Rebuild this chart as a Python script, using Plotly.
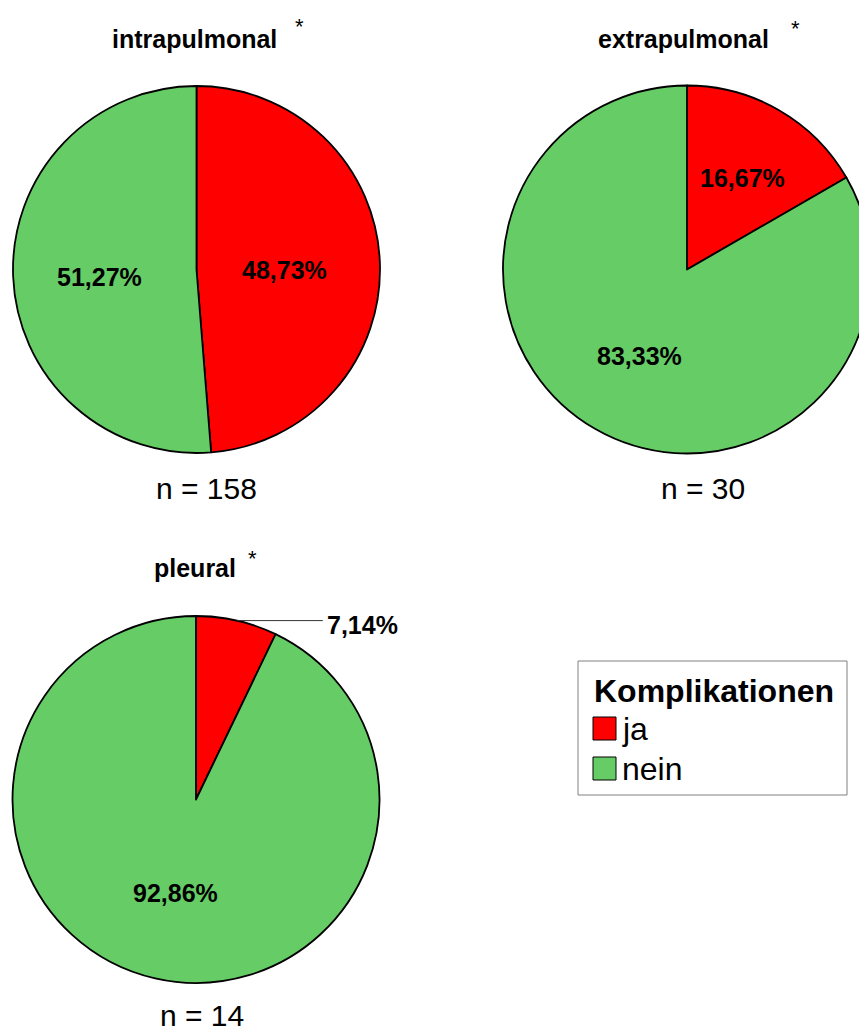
import math
import plotly.graph_objects as go

# ---- data -------------------------------------------------------------
categories = ["ja", "nein"]
groups = ["intrapulmonal", "extrapulmonal", "pleural"]
pct_intrapulmonal = [48.73, 51.27]
pct_extrapulmonal = [16.67, 83.33]
pct_pleural = [7.14, 92.86]
n_cases = [158, 30, 14]
legend_title = "Komplikationen"

# ---- styling / layout -------------------------------------------------
colors = ["#FF0000", "#66CC66"]
FONT = "Liberation Sans, Arial, Helvetica, sans-serif"
W, H = 880, 1032

# pixel geometry of each pie and its texts
pie_layout = [
    dict(cx=196.5, cy=269.5, r=183.5, frac=[0.48, 0.53], outside=[False, False],
         title_xy=(194, 39), star_xy=(299, 26), n_xy=(206, 489)),
    dict(cx=687.0, cy=269.5, r=184.0, frac=[0.6, 0.52], outside=[False, False],
         title_xy=(683, 39), star_xy=(795, 28), n_xy=(703, 489)),
    dict(cx=196.0, cy=799.5, r=183.5, frac=[0.5, 0.5], outside=[True, False],
         title_xy=(195, 568), star_xy=(253, 558), n_xy=(202, 1015)),
]
series = [pct_intrapulmonal, pct_extrapulmonal, pct_pleural]


def px(x):
    return x / W


def py(y):
    return 1 - y / H


def fmt(v):
    return f"{v:.2f}".replace(".", ",") + "%"


fig = go.Figure()
annotations = []
shapes = []

for name, vals, n, g in zip(groups, series, n_cases, pie_layout):
    cx, cy, r = g["cx"], g["cy"], g["r"]
    fig.add_trace(go.Pie(
        labels=categories,
        values=vals,
        sort=False,
        direction="clockwise",
        rotation=0,
        textinfo="none",
        hoverinfo="label+percent",
        marker=dict(colors=colors, line=dict(color="black", width=1.8)),
        domain=dict(x=[px(cx - r), px(cx + r)], y=[py(cy + r), py(cy - r)]),
        showlegend=False,
    ))

    # percentage labels placed along each slice's mid angle
    total = sum(vals)
    start = 0.0
    for i, v in enumerate(vals):
        span = 360.0 * v / total
        mid = math.radians(start + span / 2)
        start += span
        if g["outside"][i]:
            ex = cx + r * math.sin(mid)
            ey = cy - r * math.cos(mid)
            lx = ex + 86
            shapes.append(dict(type="line", xref="paper", yref="paper",
                               x0=px(ex), y0=py(ey), x1=px(lx), y1=py(ey),
                               line=dict(color="#333333", width=1)))
            annotations.append(dict(x=px(lx + 2), y=py(ey + 4), xref="paper", yref="paper",
                                    text=f"<b>{fmt(v)}</b>", showarrow=False,
                                    xanchor="left", yanchor="middle",
                                    font=dict(family=FONT, size=25, color="black")))
        else:
            f = g["frac"][i]
            tx = cx + f * r * math.sin(mid)
            ty = cy - f * r * math.cos(mid) + 4
            annotations.append(dict(x=px(tx), y=py(ty), xref="paper", yref="paper",
                                    text=f"<b>{fmt(v)}</b>", showarrow=False,
                                    xanchor="center", yanchor="middle",
                                    font=dict(family=FONT, size=25, color="black")))

    # title, asterisk and sample size
    tx, ty = g["title_xy"]
    annotations.append(dict(x=px(tx), y=py(ty), xref="paper", yref="paper",
                            text=f"<b>{name}</b>", showarrow=False,
                            xanchor="center", yanchor="middle",
                            font=dict(family=FONT, size=25, color="black")))
    sx, sy = g["star_xy"]
    annotations.append(dict(x=px(sx), y=py(sy), xref="paper", yref="paper",
                            text="*", showarrow=False,
                            xanchor="center", yanchor="middle",
                            font=dict(family=FONT, size=22, color="black")))
    nx, ny = g["n_xy"]
    annotations.append(dict(x=px(nx), y=py(ny), xref="paper", yref="paper",
                            text=f"n = {n}", showarrow=False,
                            xanchor="center", yanchor="middle",
                            font=dict(family=FONT, size=30, color="black")))

# legend box drawn by hand
lg_x0, lg_y0, lg_x1, lg_y1 = 578, 661, 847, 795
shapes.append(dict(type="rect", xref="paper", yref="paper",
                   x0=px(lg_x0), y0=py(lg_y1), x1=px(lg_x1), y1=py(lg_y0),
                   line=dict(color="#808080", width=1), fillcolor="white", layer="below"))
annotations.append(dict(x=px(592), y=py(691), xref="paper", yref="paper",
                        text=f"<b>{legend_title}</b>", showarrow=False,
                        xanchor="left", yanchor="middle",
                        font=dict(family=FONT, size=32, color="black")))
for i, (cat, col) in enumerate(zip(categories, colors)):
    yc = 728.5 + 40 * i
    shapes.append(dict(type="rect", xref="paper", yref="paper",
                       x0=px(593), x1=px(616), y0=py(yc + 11.5), y1=py(yc - 11.5),
                       fillcolor=col, line=dict(color="black", width=1)))
    annotations.append(dict(x=px(620), y=py(yc), xref="paper", yref="paper",
                            text=cat, showarrow=False,
                            xanchor="left", yanchor="middle",
                            font=dict(family=FONT, size=32, color="black")))

fig.update_layout(
    width=W, height=H,
    margin=dict(l=0, r=0, t=0, b=0),
    paper_bgcolor="white", plot_bgcolor="white",
    annotations=annotations, shapes=shapes,
    showlegend=False,
)

fig.write_html(
    "out.html",
    config={"displayModeBar": False},
    post_script="document.documentElement.style.overflow='hidden';document.body.style.overflow='hidden';",
)
